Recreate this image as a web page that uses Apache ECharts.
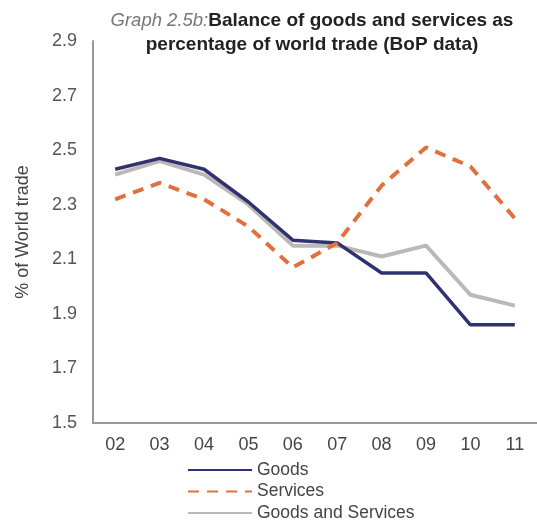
<!DOCTYPE html>
<html>
<head>
<meta charset="utf-8">
<script src="https://cdn.jsdelivr.net/npm/echarts@6/dist/echarts.min.js"></script>
<style>html,body{margin:0;padding:0;background:#fff}#c{width:537px;height:525px}</style>
</head>
<body>
<div id="c"></div>
<script>
var years = ['02','03','04','05','06','07','08','09','10','11'];
var goods = [2.43, 2.47, 2.43, 2.31, 2.17, 2.16, 2.05, 2.05, 1.86, 1.86];
var services = [2.32, 2.38, 2.32, 2.22, 2.07, 2.16, 2.37, 2.51, 2.44, 2.25];
var goodsAndServices = [2.41, 2.46, 2.41, 2.30, 2.15, 2.15, 2.11, 2.15, 1.97, 1.93];
var yTicks = [1.5, 1.7, 1.9, 2.1, 2.3, 2.5, 2.7, 2.9];

var chart = echarts.init(document.getElementById('c'));
var font = 'Liberation Sans, Arial, sans-serif';
chart.setOption({
  animation: false,
  textStyle: { fontFamily: font },
  title: {
    text: '{i|Graph 2.5b:}{b|Balance of goods and services as}\n{b|percentage of world trade (BoP data)}',
    left: 312, top: 9, textAlign: 'center', padding: 0,
    textStyle: {
      rich: {
        i: { fontFamily: font, fontStyle: 'italic', fontWeight: 'normal', fontSize: 18.5, color: '#777', lineHeight: 24 },
        b: { fontFamily: font, fontWeight: 'bold', fontSize: 19, color: '#222', lineHeight: 24 }
      }
    }
  },
  grid: { left: 93, top: 41, width: 451, height: 382 },
  legend: {
    orient: 'vertical', left: 187, top: 461, height: 120, padding: 0, itemGap: 3.5, itemWidth: 64, itemHeight: 15,
    itemStyle: { opacity: 0 },
    textStyle: { fontFamily: font, fontSize: 17.5, color: '#444', padding: [0, 0, 0, 0] },
    data: ['Goods', 'Services', 'Goods and Services']
  },
  xAxis: {
    type: 'category', data: years, boundaryGap: true,
    axisLine: { lineStyle: { color: '#999', width: 2 } },
    axisTick: { show: false },
    axisLabel: { fontFamily: font, fontSize: 18, color: '#444', margin: 13 }
  },
  yAxis: {
    type: 'value', min: 1.5, max: 2.9, interval: 0.2,
    name: '% of World trade', nameLocation: 'middle', nameGap: 61,
    nameTextStyle: { fontFamily: font, fontSize: 18, color: '#444' },
    axisLine: { show: true, lineStyle: { color: '#999', width: 2 } },
    axisTick: { show: false },
    splitLine: { show: false },
    axisLabel: { fontFamily: font, fontSize: 18, color: '#555', margin: 16,
      formatter: function (v) { return yTicks.indexOf(Math.round(v * 10) / 10) >= 0 ? v.toFixed(1) : ''; } }
  },
  series: [
    { name: 'Goods', type: 'line', data: goods, symbol: 'none', z: 3,
      lineStyle: { color: '#2f3270', width: 3.5 }, itemStyle: { color: '#2f3270' } },
    { name: 'Services', type: 'line', data: services, symbol: 'none', z: 4,
      lineStyle: { color: '#e0703c', width: 4, type: [11, 8] }, itemStyle: { color: '#e0703c' } },
    { name: 'Goods and Services', type: 'line', data: goodsAndServices, symbol: 'none', z: 2,
      lineStyle: { color: '#bdb8b8', width: 4 }, itemStyle: { color: '#bdb8b8' } }
  ]
});
</script>
</body>
</html>
